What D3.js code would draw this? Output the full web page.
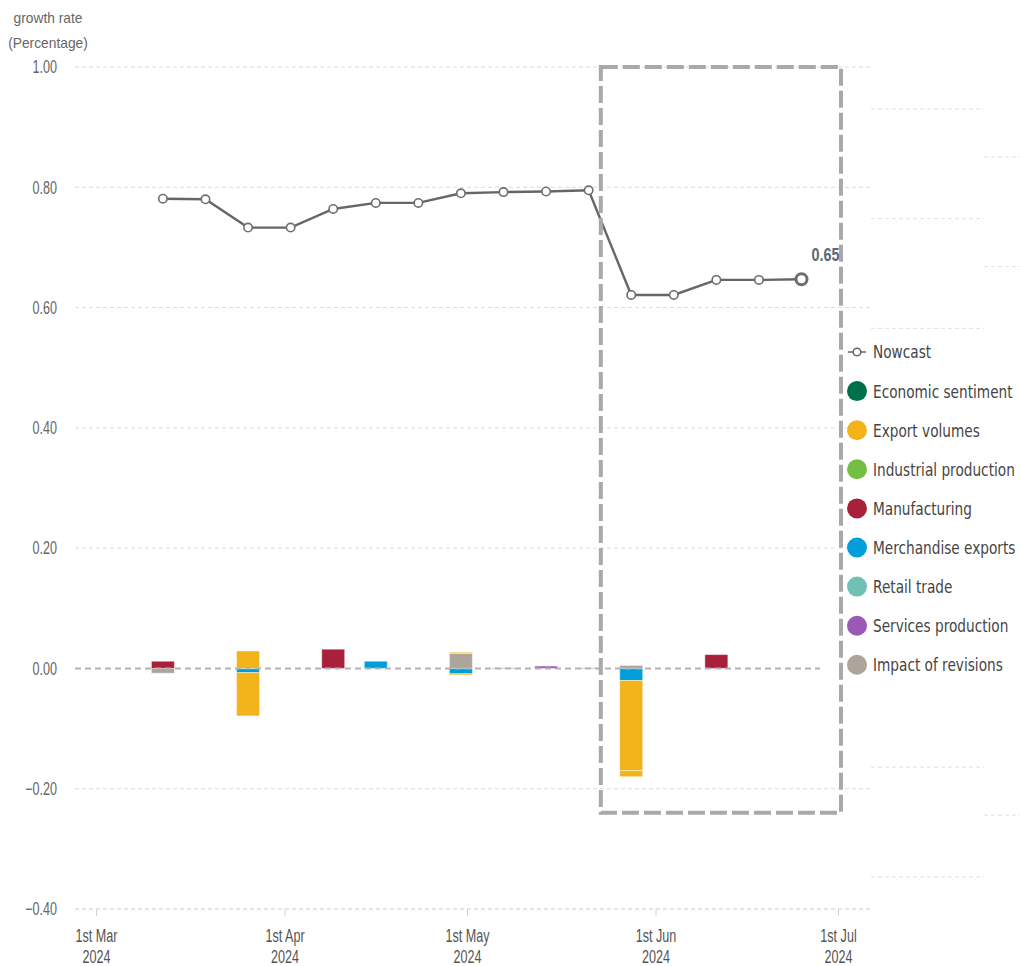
<!DOCTYPE html>
<html>
<head>
<meta charset="utf-8">
<script src="https://cdn.jsdelivr.net/npm/d3@7"></script>
<style>
  html, body { margin: 0; padding: 0; background: #fff; }
  svg { display: block; }
  .sans { font-family: "Liberation Sans", Arial, sans-serif; }
  .legend-text { font-family: "DejaVu Sans", "Noto Sans", sans-serif; }
</style>
</head>
<body>
<svg id="chart" width="1020" height="966"></svg>
<script>
// Weekly nowcast vintages (growth rate, %)
const dates = ["2024-03-12","2024-03-19","2024-03-26","2024-04-02","2024-04-09","2024-04-16",
  "2024-04-23","2024-04-30","2024-05-07","2024-05-14","2024-05-21","2024-05-28",
  "2024-06-04","2024-06-11","2024-06-18","2024-06-25"];
const nowcast = [0.781, 0.780, 0.733, 0.733, 0.764, 0.774, 0.774, 0.790,
  0.792, 0.793, 0.795, 0.621, 0.621, 0.646, 0.646, 0.647];

// Contributions of each indicator's news to the revision of the nowcast.
// A cell may hold several releases of the same indicator in one week.
const economicSentiment    = [0, 0, 0, 0, 0, 0, 0, 0, 0, 0, 0, 0, 0, 0, 0, 0];
const exportVolumes        = [0, 0, [0.029, -0.072], 0, 0, 0, 0, [0.002, -0.002], 0, 0, 0, [-0.150, -0.010], 0, 0, 0, 0];
const industrialProduction = [0, 0, 0, 0, 0, 0, 0, 0, 0, 0, 0, 0, 0, 0, 0, 0];
const manufacturing        = [0.012, 0, 0, 0, 0.032, 0, 0, 0, 0, 0, 0, 0, 0, 0.023, 0, 0];
const merchandiseExports   = [0, 0, -0.007, 0, 0, 0.012, 0, -0.009, 0, 0, 0, -0.020, 0, 0, 0, 0];
const retailTrade          = [0, 0, 0, 0, 0, 0, 0, 0, 0, 0, 0, 0, 0, 0, 0, 0];
const servicesProduction   = [0, 0, 0, 0, 0, 0, 0, 0, 0, 0.004, 0, 0, 0, 0, 0, 0];
const impactOfRevisions    = [-0.008, 0, 0, 0, 0, 0, 0, 0.025, 0.001, 0, 0.001, 0.005, 0, 0, 0, 0];

const seriesNames  = ["Economic sentiment", "Export volumes", "Industrial production", "Manufacturing",
  "Merchandise exports", "Retail trade", "Services production", "Impact of revisions"];
const seriesValues = [economicSentiment, exportVolumes, industrialProduction, manufacturing,
  merchandiseExports, retailTrade, servicesProduction, impactOfRevisions];
const seriesColors = ["#00704A", "#F2B31B", "#72BF44", "#A8203A", "#009EDB", "#70C1B3", "#9B59B6", "#ADA49C"];

const yTicks = [1.0, 0.8, 0.6, 0.4, 0.2, 0.0, -0.2, -0.4];
const xTicks = ["2024-03-01", "2024-04-01", "2024-05-01", "2024-06-01", "2024-07-01"];

// Period outlined as the latest window
const highlightWindow = { from: "2024-05-23", to: "2024-07-01", top: 1.0, bottom: -0.24 };

const parse = d3.utcParse("%Y-%m-%d");
const svg = d3.select("#chart");

const x = d3.scaleUtc().domain([parse("2024-03-01"), parse("2024-07-01")]).range([96, 838]);
const y = d3.scaleLinear().domain([-0.4, 1.0]).range([909, 67]);

const gridLeft = 75, gridRight = 870;
const squeeze = "scale(0.7,1)";

// Faint leftover guide lines on the right margin
const ghost = svg.append("g").attr("stroke", "#e2e2e2").attr("stroke-dasharray", "4,3").attr("stroke-width", 1);
d3.range(8).forEach(k => {
  ghost.append("line").attr("x1", 871).attr("x2", 984)
    .attr("y1", 109 + k * 109.7).attr("y2", 109 + k * 109.7);
});
d3.range(7).forEach(k => {
  ghost.append("line").attr("x1", 984).attr("x2", 1020)
    .attr("y1", 157 + k * 109.7).attr("y2", 157 + k * 109.7);
});

// Horizontal gridlines
svg.append("g").selectAll("line").data(yTicks.filter(v => v !== 0)).join("line")
  .attr("x1", gridLeft).attr("x2", gridRight)
  .attr("y1", d => y(d)).attr("y2", d => y(d))
  .attr("stroke", "#dcdcdc").attr("stroke-width", 1).attr("stroke-dasharray", "4,3");

// Y axis labels
const yAxis = svg.append("g").attr("transform", "translate(57,0)")
  .call(d3.axisLeft(y).tickValues(yTicks).tickFormat(d3.format(".2f")).tickSize(0).tickPadding(0));
yAxis.select(".domain").remove();
yAxis.selectAll("text").attr("class", "sans").attr("font-size", 18).attr("fill", "#666")
  .attr("transform", squeeze);

// Axis title
const title = svg.append("g").attr("class", "sans").attr("fill", "#666").attr("font-size", 15).attr("text-anchor", "middle");
title.append("text").attr("transform", "translate(48,23) scale(0.92,1)").text("growth rate");
title.append("text").attr("transform", "translate(48,48) scale(0.92,1)").text("(Percentage)");

// X axis: tick marks and two-line labels
const xAxis = svg.append("g").attr("transform", `translate(0,${y(-0.4)})`)
  .call(d3.axisBottom(x).tickValues(xTicks.map(parse)).tickSize(7).tickFormat(() => ""));
xAxis.select(".domain").remove();
xAxis.selectAll(".tick line").attr("stroke", "#c9d0de");
const fmtMonth = d3.utcFormat("%b"), fmtYear = d3.utcFormat("%Y");
xAxis.selectAll(".tick").each(function(d) {
  const t = d3.select(this);
  t.append("text").attr("class", "sans").attr("fill", "#555").attr("font-size", 18)
    .attr("text-anchor", "middle").attr("transform", "translate(0,33) " + squeeze)
    .text(`1st ${fmtMonth(d)}`);
  t.append("text").attr("class", "sans").attr("fill", "#555").attr("font-size", 18)
    .attr("text-anchor", "middle").attr("transform", "translate(0,54) " + squeeze)
    .text(fmtYear(d));
});
// Bottom gridline
svg.append("line").attr("x1", gridLeft).attr("x2", gridRight)
  .attr("y1", y(-0.4)).attr("y2", y(-0.4))
  .attr("stroke", "#dcdcdc").attr("stroke-dasharray", "4,3");

// Stacked contribution bars: stacking runs from the last legend entry outward
const segments = [];
dates.forEach((ds, i) => {
  let pos = 0, neg = 0;
  for (let s = seriesNames.length - 1; s >= 0; s--) {
    const cell = seriesValues[s][i];
    const vals = Array.isArray(cell) ? cell : [cell];
    vals.forEach(v => {
      if (!v) return;
      if (v > 0) { segments.push({ date: parse(ds), s, y0: pos, y1: pos + v }); pos += v; }
      else { segments.push({ date: parse(ds), s, y0: neg, y1: neg + v }); neg += v; }
    });
  }
});
const week = x(parse("2024-03-19")) - x(parse("2024-03-12"));
const barW = week * 0.54;
svg.append("g").selectAll("rect").data(segments).join("rect")
  .attr("x", d => x(d.date) - barW / 2)
  .attr("width", barW)
  .attr("y", d => y(Math.max(d.y0, d.y1)))
  .attr("height", d => Math.max(1, Math.abs(y(d.y0) - y(d.y1))))
  .attr("fill", d => seriesColors[d.s])
  .attr("stroke", "rgba(255,255,255,0.45)").attr("stroke-width", 1);

// Zero line
svg.append("line").attr("x1", gridLeft).attr("x2", 820)
  .attr("y1", y(0)).attr("y2", y(0))
  .attr("stroke", "#b3b3b3").attr("stroke-width", 2).attr("stroke-dasharray", "6,4");

// Nowcast line and markers
const pts = dates.map((d, i) => ({ date: parse(d), v: nowcast[i] }));
svg.append("path").datum(pts)
  .attr("d", d3.line().x(d => x(d.date)).y(d => y(d.v)))
  .attr("fill", "none").attr("stroke", "#666").attr("stroke-width", 2.4);
svg.append("g").selectAll("circle").data(pts).join("circle")
  .attr("cx", d => x(d.date)).attr("cy", d => y(d.v))
  .attr("r", (d, i) => i === pts.length - 1 ? 5.5 : 4.2)
  .attr("fill", "#fff").attr("stroke", "#6e6e6e")
  .attr("stroke-width", (d, i) => i === pts.length - 1 ? 3 : 1.6);

// Latest value label
const last = pts[pts.length - 1];
svg.append("text").attr("class", "sans")
  .attr("transform", `translate(${x(last.date) + 10},${y(last.v) - 18}) scale(0.8,1)`)
  .attr("font-size", 18).attr("font-weight", "bold").attr("fill", "#5e6676")
  .text(d3.format(".2f")(last.v));

// Highlight window
svg.append("rect")
  .attr("x", x(parse(highlightWindow.from)))
  .attr("y", y(highlightWindow.top))
  .attr("width", x(parse(highlightWindow.to)) - x(parse(highlightWindow.from)) + 3)
  .attr("height", y(highlightWindow.bottom) - y(highlightWindow.top))
  .attr("fill", "none").attr("stroke", "#a9a9a9").attr("stroke-width", 4)
  .attr("stroke-dasharray", "17,5");

// Legend
const legend = svg.append("g").attr("transform", "translate(848,352)");
legend.append("rect").attr("x", 8).attr("y", -14).attr("width", 172).attr("height", 370).attr("fill", "#fff");
const rowH = 39.1;
const nowRow = legend.append("g");
nowRow.append("line").attr("x1", 0).attr("x2", 18).attr("stroke", "#666").attr("stroke-width", 1.5);
nowRow.append("circle").attr("cx", 9).attr("r", 3.8).attr("fill", "#fff").attr("stroke", "#666").attr("stroke-width", 1.5);
nowRow.append("text").attr("class", "legend-text")
  .attr("transform", "translate(25,0) scale(0.76,1)").attr("dy", "0.36em")
  .attr("font-size", 18).attr("fill", "#454545").text("Nowcast");
seriesNames.forEach((name, i) => {
  const g = legend.append("g").attr("transform", `translate(0,${(i + 1) * rowH})`);
  g.append("circle").attr("cx", 9).attr("r", 10).attr("fill", seriesColors[i]);
  g.append("text").attr("class", "legend-text")
    .attr("transform", "translate(25,0) scale(0.76,1)").attr("dy", "0.36em")
    .attr("font-size", 18).attr("fill", "#454545").text(name);
});
</script>
</body>
</html>
